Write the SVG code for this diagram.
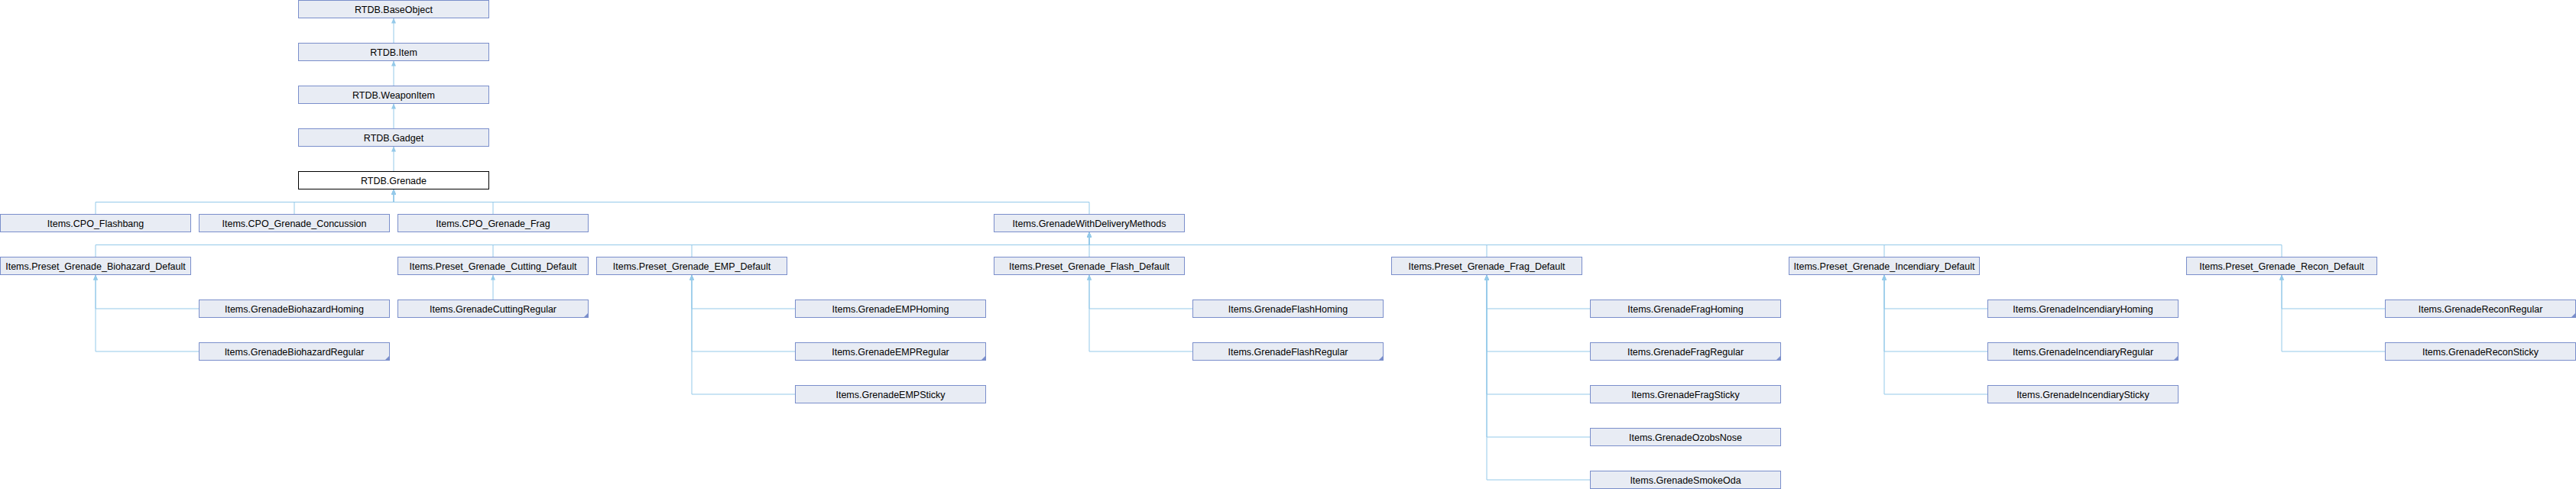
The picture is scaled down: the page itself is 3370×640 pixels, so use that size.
<svg xmlns="http://www.w3.org/2000/svg" width="3370" height="640" viewBox="0 0 3370 640">
<style>
.n rect{fill:#e8ecf4;stroke:#7a8ecb;stroke-width:1}
.n.h rect{fill:#ffffff;stroke:#000000}
.n text{font-family:"Liberation Sans",Arial,sans-serif;font-size:12.5px;fill:#000;text-anchor:middle}
.c{fill:#7a8ecb;stroke:none}
#edges path{fill:none;stroke:#94c9e9;stroke-width:1;marker-end:url(#a)}
</style>
<defs>
<marker id="a" markerUnits="userSpaceOnUse" markerWidth="7" markerHeight="6" refX="7" refY="3" orient="auto">
<path d="M0,0 L7,3 L0,6 z" fill="#94c9e9"/>
</marker>
</defs>
<rect width="3370" height="640" fill="#ffffff"/>
<g id="edges">
<path d="M515,56.5 V23.5"/>
<path d="M515,112.5 V79.5"/>
<path d="M515,168.5 V135.5"/>
<path d="M515,224.5 V191.5"/>
<path d="M125,280.5 V264.5 H515 V247.5"/>
<path d="M385,280.5 V264.5 H515 V247.5"/>
<path d="M645,280.5 V264.5 H515 V247.5"/>
<path d="M1425,280.5 V264.5 H515 V247.5"/>
<path d="M125,336.5 V320.5 H1425 V303.5"/>
<path d="M645,336.5 V320.5 H1425 V303.5"/>
<path d="M905,336.5 V320.5 H1425 V303.5"/>
<path d="M1425,336.5 V303.5"/>
<path d="M1945,336.5 V320.5 H1425 V303.5"/>
<path d="M2465,336.5 V320.5 H1425 V303.5"/>
<path d="M2985,336.5 V320.5 H1425 V303.5"/>
<path d="M260.5,404 H125 V359.5"/>
<path d="M260.5,460 H125 V359.5"/>
<path d="M645,392.5 V359.5"/>
<path d="M1040.5,404 H905 V359.5"/>
<path d="M1040.5,460 H905 V359.5"/>
<path d="M1040.5,516 H905 V359.5"/>
<path d="M1560.5,404 H1425 V359.5"/>
<path d="M1560.5,460 H1425 V359.5"/>
<path d="M2080.5,404 H1945 V359.5"/>
<path d="M2080.5,460 H1945 V359.5"/>
<path d="M2080.5,516 H1945 V359.5"/>
<path d="M2080.5,572 H1945 V359.5"/>
<path d="M2080.5,628 H1945 V359.5"/>
<path d="M2600.5,404 H2465 V359.5"/>
<path d="M2600.5,460 H2465 V359.5"/>
<path d="M2600.5,516 H2465 V359.5"/>
<path d="M3120.5,404 H2985 V359.5"/>
<path d="M3120.5,460 H2985 V359.5"/>
</g>
<g id="n_baseobject" class="n"><rect x="390.5" y="0.5" width="249" height="23"/><text x="515" y="16.5">RTDB.BaseObject</text></g>
<g id="n_item" class="n"><rect x="390.5" y="56.5" width="249" height="23"/><text x="515" y="72.5">RTDB.Item</text></g>
<g id="n_weaponitem" class="n"><rect x="390.5" y="112.5" width="249" height="23"/><text x="515" y="128.5">RTDB.WeaponItem</text></g>
<g id="n_gadget" class="n"><rect x="390.5" y="168.5" width="249" height="23"/><text x="515" y="184.5">RTDB.Gadget</text></g>
<g id="n_grenade" class="n h"><rect x="390.5" y="224.5" width="249" height="23"/><text x="515" y="240.5">RTDB.Grenade</text></g>
<g id="n_cpo_flashbang" class="n"><rect x="0.5" y="280.5" width="249" height="23"/><text x="125" y="296.5">Items.CPO_Flashbang</text></g>
<g id="n_cpo_concussion" class="n"><rect x="260.5" y="280.5" width="249" height="23"/><text x="385" y="296.5">Items.CPO_Grenade_Concussion</text></g>
<g id="n_cpo_frag" class="n"><rect x="520.5" y="280.5" width="249" height="23"/><text x="645" y="296.5">Items.CPO_Grenade_Frag</text></g>
<g id="n_gwdm" class="n"><rect x="1300.5" y="280.5" width="249" height="23"/><text x="1425" y="296.5">Items.GrenadeWithDeliveryMethods</text></g>
<g id="n_p_biohazard" class="n"><rect x="0.5" y="336.5" width="249" height="23"/><text x="125" y="352.5">Items.Preset_Grenade_Biohazard_Default</text></g>
<g id="n_p_cutting" class="n"><rect x="520.5" y="336.5" width="249" height="23"/><text x="645" y="352.5">Items.Preset_Grenade_Cutting_Default</text></g>
<g id="n_p_emp" class="n"><rect x="780.5" y="336.5" width="249" height="23"/><text x="905" y="352.5">Items.Preset_Grenade_EMP_Default</text></g>
<g id="n_p_flash" class="n"><rect x="1300.5" y="336.5" width="249" height="23"/><text x="1425" y="352.5">Items.Preset_Grenade_Flash_Default</text></g>
<g id="n_p_frag" class="n"><rect x="1820.5" y="336.5" width="249" height="23"/><text x="1945" y="352.5">Items.Preset_Grenade_Frag_Default</text></g>
<g id="n_p_incendiary" class="n"><rect x="2340.5" y="336.5" width="249" height="23"/><text x="2465" y="352.5">Items.Preset_Grenade_Incendiary_Default</text></g>
<g id="n_p_recon" class="n"><rect x="2860.5" y="336.5" width="249" height="23"/><text x="2985" y="352.5">Items.Preset_Grenade_Recon_Default</text></g>
<g id="n_bio_homing" class="n"><rect x="260.5" y="392.5" width="249" height="23"/><text x="385" y="408.5">Items.GrenadeBiohazardHoming</text></g>
<g id="n_bio_regular" class="n"><rect x="260.5" y="448.5" width="249" height="23"/><text x="385" y="464.5">Items.GrenadeBiohazardRegular</text><polygon class="c" points="509.5,465.5 509.5,471.5 503.5,471.5"/></g>
<g id="n_cut_regular" class="n"><rect x="520.5" y="392.5" width="249" height="23"/><text x="645" y="408.5">Items.GrenadeCuttingRegular</text><polygon class="c" points="769.5,409.5 769.5,415.5 763.5,415.5"/></g>
<g id="n_emp_homing" class="n"><rect x="1040.5" y="392.5" width="249" height="23"/><text x="1165" y="408.5">Items.GrenadeEMPHoming</text></g>
<g id="n_emp_regular" class="n"><rect x="1040.5" y="448.5" width="249" height="23"/><text x="1165" y="464.5">Items.GrenadeEMPRegular</text><polygon class="c" points="1289.5,465.5 1289.5,471.5 1283.5,471.5"/></g>
<g id="n_emp_sticky" class="n"><rect x="1040.5" y="504.5" width="249" height="23"/><text x="1165" y="520.5">Items.GrenadeEMPSticky</text></g>
<g id="n_flash_homing" class="n"><rect x="1560.5" y="392.5" width="249" height="23"/><text x="1685" y="408.5">Items.GrenadeFlashHoming</text></g>
<g id="n_flash_regular" class="n"><rect x="1560.5" y="448.5" width="249" height="23"/><text x="1685" y="464.5">Items.GrenadeFlashRegular</text><polygon class="c" points="1809.5,465.5 1809.5,471.5 1803.5,471.5"/></g>
<g id="n_frag_homing" class="n"><rect x="2080.5" y="392.5" width="249" height="23"/><text x="2205" y="408.5">Items.GrenadeFragHoming</text></g>
<g id="n_frag_regular" class="n"><rect x="2080.5" y="448.5" width="249" height="23"/><text x="2205" y="464.5">Items.GrenadeFragRegular</text><polygon class="c" points="2329.5,465.5 2329.5,471.5 2323.5,471.5"/></g>
<g id="n_frag_sticky" class="n"><rect x="2080.5" y="504.5" width="249" height="23"/><text x="2205" y="520.5">Items.GrenadeFragSticky</text></g>
<g id="n_ozobsnose" class="n"><rect x="2080.5" y="560.5" width="249" height="23"/><text x="2205" y="576.5">Items.GrenadeOzobsNose</text></g>
<g id="n_smokeoda" class="n"><rect x="2080.5" y="616.5" width="249" height="23"/><text x="2205" y="632.5">Items.GrenadeSmokeOda</text></g>
<g id="n_inc_homing" class="n"><rect x="2600.5" y="392.5" width="249" height="23"/><text x="2725" y="408.5">Items.GrenadeIncendiaryHoming</text></g>
<g id="n_inc_regular" class="n"><rect x="2600.5" y="448.5" width="249" height="23"/><text x="2725" y="464.5">Items.GrenadeIncendiaryRegular</text><polygon class="c" points="2849.5,465.5 2849.5,471.5 2843.5,471.5"/></g>
<g id="n_inc_sticky" class="n"><rect x="2600.5" y="504.5" width="249" height="23"/><text x="2725" y="520.5">Items.GrenadeIncendiarySticky</text></g>
<g id="n_recon_regular" class="n"><rect x="3120.5" y="392.5" width="249" height="23"/><text x="3245" y="408.5">Items.GrenadeReconRegular</text><polygon class="c" points="3369.5,409.5 3369.5,415.5 3363.5,415.5"/></g>
<g id="n_recon_sticky" class="n"><rect x="3120.5" y="448.5" width="249" height="23"/><text x="3245" y="464.5">Items.GrenadeReconSticky</text></g>
</svg>
